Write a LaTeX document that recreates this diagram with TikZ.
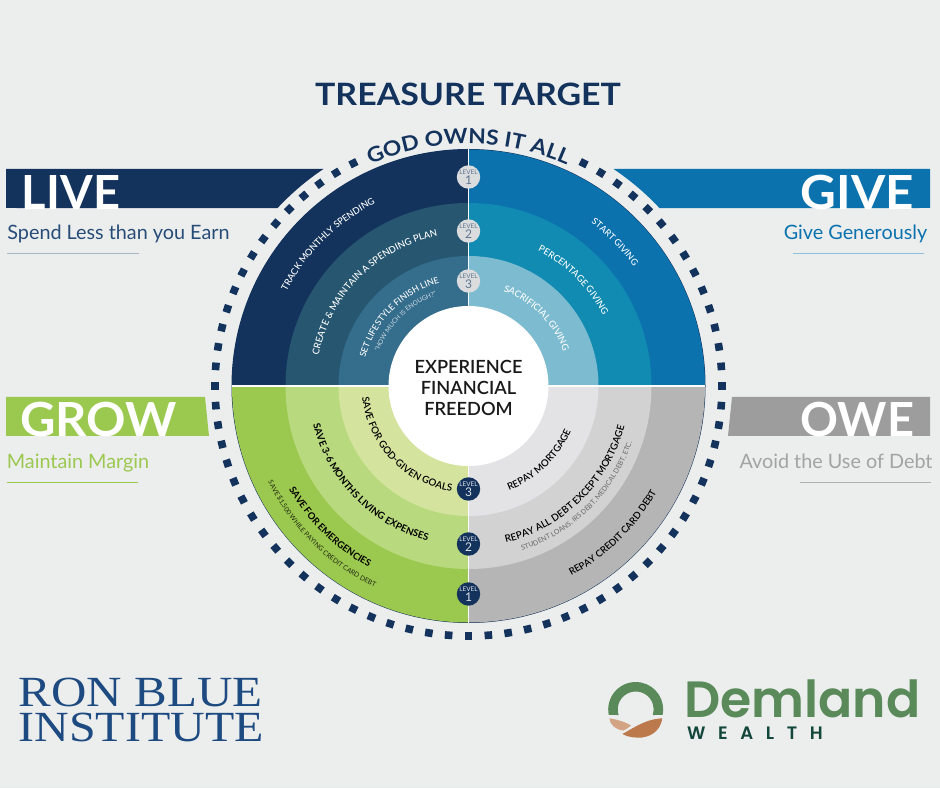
\documentclass[tikz,border=0pt]{standalone}
\usepackage{fontspec}
\usetikzlibrary{decorations.text}
\setmainfont{Lato}
\newfontfamily\medfont{Lato Medium}
\newfontfamily\semifont{Lato Semibold}
\newfontfamily\boldfont{Lato Bold}
\newfontfamily\widefont[FakeStretch=1.1]{Lato Bold}
\newfontfamily\brandfont{Poppins SemiBold}
\newfontfamily\wealthfont[LetterSpace=70]{Poppins SemiBold}
\newfontfamily\institutefont{Liberation Serif}

\definecolor{paper}{HTML}{ECEEEE}
\definecolor{navy}{HTML}{14335C}
\definecolor{liveB}{HTML}{265670}
\definecolor{liveC}{HTML}{356D8C}
\definecolor{giveA}{HTML}{0B72AE}
\definecolor{giveB}{HTML}{118BB1}
\definecolor{giveC}{HTML}{7CBBD0}
\definecolor{growA}{HTML}{9BC84F}
\definecolor{growB}{HTML}{B8D97D}
\definecolor{growC}{HTML}{D4E49F}
\definecolor{oweA}{HTML}{B5B5B6}
\definecolor{oweB}{HTML}{D2D2D3}
\definecolor{oweC}{HTML}{E3E3E5}
\definecolor{oweBar}{HTML}{9D9D9D}
\definecolor{oweText}{HTML}{A3A3A3}
\definecolor{spendText}{HTML}{274C77}
\definecolor{badgeLight}{HTML}{DADCDE}
\definecolor{badgeText}{HTML}{5F7590}
\definecolor{leafDark}{HTML}{BC7A4C}
\definecolor{leafLight}{HTML}{D2A483}
\definecolor{brandGreen}{HTML}{5A8A5A}
\definecolor{brandDark}{HTML}{12473A}
\definecolor{instituteBlue}{HTML}{1D4A80}

% r, start angle, end angle, text format, text: lettering centred along a circle round the centre
\newcommand{\arclabel}[5]{%
  \pgfmathsetmacro{\arcS}{#2+12*sign(#2-(#3))}%
  \pgfmathsetmacro{\arcE}{#3-12*sign(#2-(#3))}%
  \path[decorate,decoration={text along path,text align=center,
    text={|#4|#5}}]
    ([shift={(\arcS:#1)}]c) arc[start angle=\arcS,end angle=\arcE,radius=#1];}
% one ring sector: radius, start angle, colour
\newcommand{\sector}[3]{%
  \fill[#3] (c) -- ([shift={(#2:#1)}]c) arc[start angle=#2,end angle=#2+90,radius=#1] -- cycle;}
\newcommand{\fs}[1]{\fontsize{#1}{#1}\selectfont}
\newcommand{\levelmark}[1]{\fs{6.4}LEVEL\\[-2pt]\fs{12}#1}

\tikzset{
  x=1pt,y=1pt,
  bannerword/.style={anchor=base,inner sep=0pt,text=white,font=\boldfont\fontsize{47}{47}\selectfont},
  caption/.style={anchor=base,inner sep=0pt,font=\fontsize{19.8}{19.8}\selectfont},
  badge/.style={circle,minimum size=22pt,inner sep=0pt,align=center},
  badgeUp/.style={badge,fill=badgeLight,text=badgeText},
  badgeDown/.style={badge,fill=navy,text=white!85!navy},
}

\begin{document}
\begin{tikzpicture}
\useasboundingbox (0,0) rectangle (940,788);
\fill[paper] (0,0) rectangle (940,788);
\coordinate (c) at (468.5,402);

% banners, cut concentric with the target at the top and slanted at the bottom
\fill[navy] (6,619) -- ([shift={(123.75:261)}]c) arc[start angle=123.75,end angle=137.03,radius=261] -- (6,580) -- cycle;
\fill[giveA] (930,619) -- ([shift={(56.25:261)}]c) arc[start angle=56.25,end angle=42.97,radius=261] -- (930,580) -- cycle;
\fill[growA] (6,391) -- (205,391) -- (209,352) -- (6,352) -- cycle;
\fill[oweBar] (930,391) -- (732,391) -- (728,352) -- (930,352) -- cycle;

\node[bannerword] (live) at (71,578.5) {LIVE};
\node[bannerword] (give) at (857.5,578.5) {\scalebox{1.05}[1]{GIVE}};
\node[bannerword] (grow) at (98.5,351) {\scalebox{1.04}[1]{GROW}};
\node[bannerword] (owe) at (857.5,351) {OWE};

\node[caption,text=spendText] (livecap) at (118.5,548) {Spend Less than you Earn};
\node[caption,text=giveA] (givecap) at (855.5,548) {Give Generously};
\node[caption,text=growA] (growcap) at (78,319) {Maintain Margin};
\node[caption,text=oweText] (owecap) at (836,319) {Avoid the Use of Debt};

\draw[spendText!40!white,line width=0.9pt] (7,535) -- (139,535);
\draw[giveA!45!white,line width=0.9pt] (793,535) -- (924,535);
\draw[growA,line width=0.7pt] (7,306) -- (138,306);
\draw[oweText!85!white,line width=0.7pt] (800,306) -- (931,306);

% title and the lettering over the top of the ring
\node[anchor=base,inner sep=0pt,text=navy,font=\widefont\fontsize{30.8}{30.8}\selectfont] (title) at (468,682.5) {TREASURE TARGET};
\arclabel{242}{114.5}{65.5}{\widefont\fs{20.8}\color{navy}}{GOD OWNS IT ALL}

% square dots round the target, left open behind the lettering
\foreach \k in {0,...,79}{
  \pgfmathsetmacro{\a}{4.5*\k}
  \pgfmathparse{(\a>63.5 && \a<116.5) ? 1 : 0}
  \ifdim\pgfmathresult pt<0.5pt
    \fill[navy,shift={({468.5+253.5*cos(\a)},{402+250*sin(\a)})},rotate=\a] (-3.8,-3.8) rectangle (3.8,3.8);
  \fi
}

% rings, outermost first
\fill[navy] (c) circle[radius=237];
\sector{236.5}{90}{navy}   \sector{183}{90}{liveB}  \sector{130}{90}{liveC}
\sector{236.5}{0}{giveA}   \sector{183}{0}{giveB}   \sector{130}{0}{giveC}
\sector{236.5}{180}{growA} \sector{183}{180}{growB} \sector{130}{180}{growC}
\sector{236.5}{270}{oweA}  \sector{183}{270}{oweB}  \sector{130}{270}{oweC}

% dividers and hub
\draw[white!85!paper,line width=1.8pt] ([xshift=-236.5pt]c) -- ([xshift=236.5pt]c);
\draw[white!85!paper,line width=1.3pt] ([yshift=-236.5pt]c) -- ([yshift=236.5pt]c);
\fill[white] (c) circle[radius=80];
\node[align=center,inner sep=0pt,font=\semifont\fontsize{18.2}{21}\selectfont,text=black!90] (hub) at (468.5,400) {EXPERIENCE\\FINANCIAL\\FREEDOM};

% labels in the upper quarters
\arclabel{205}{153}{116.5}{\medfont\fs{9.2}\color{white}}{TRACK MONTHLY SPENDING}
\arclabel{153}{169}{101}{\medfont\fs{9.4}\color{white}}{CREATE {\&} MAINTAIN A SPENDING PLAN}
\arclabel{107}{167.5}{103}{\medfont\fs{8.7}\color{white}}{SET LIFESTYLE FINISH LINE}
\arclabel{96}{161}{107.5}{\fs{6.5}\color{white!75!liveC}}{“HOW MUCH IS ENOUGH?”}
\arclabel{204}{54.5}{34.5}{\medfont\fs{9}\color{white}}{START GIVING}
\arclabel{152}{64.5}{26}{\medfont\fs{9.2}\color{white}}{PERCENTAGE GIVING}
\arclabel{101}{72}{18}{\medfont\fs{9.2}\color{white}}{SACRIFICIAL GIVING}

% labels in the lower quarters
\arclabel{107}{185.5}{261.5}{\semifont\fs{9.8}\color{black}}{SAVE FOR GOD-GIVEN GOALS}
\arclabel{160}{193}{256}{\boldfont\fs{9.7}\color{black}}{SAVE 3-6 MONTHS LIVING EXPENSES}
\arclabel{207}{209}{242}{\boldfont\fs{9.5}\color{black}}{SAVE FOR EMERGENCIES}
\arclabel{222}{205}{245.5}{\fs{6.7}\color{black!80!growA}}{SAVE {\$}1,500 WHILE PAYING CREDIT CARD DEBT}
\arclabel{112}{-70}{-22.5}{\semifont\fs{9.7}\color{black}}{REPAY MORTGAGE}
\arclabel{161}{-77}{-14}{\semifont\fs{9.8}\color{black}}{REPAY ALL DEBT EXCEPT MORTGAGE}
\arclabel{173}{-72}{-19}{\fs{6.9}\color{black!60}}{STUDENT LOANS, IRS DEBT, MEDICAL DEBT, ETC.}
\arclabel{216}{-62.5}{-28.5}{\semifont\fs{9.5}\color{black}}{REPAY CREDIT CARD DEBT}

% level badges on the vertical divider
\node[badgeUp] (u1) at (468.5,611) {\levelmark{1}};
\node[badgeUp] (u2) at (468.5,557) {\levelmark{2}};
\node[badgeUp] (u3) at (468.5,507) {\levelmark{3}};
\node[badgeDown] (d3) at (468.5,299) {\levelmark{3}};
\node[badgeDown] (d2) at (468.5,244) {\levelmark{2}};
\node[badgeDown] (d1) at (468.5,194) {\levelmark{1}};

% institute wordmark
\node[anchor=base west,inner sep=0pt,text=instituteBlue,font=\institutefont\fontsize{43}{43}\selectfont] (ron) at (18.5,82) {\scalebox{1.14}[1]{RON BLUE}};
\node[anchor=base west,inner sep=0pt,text=instituteBlue,font=\institutefont\fontsize{43}{43}\selectfont] (inst) at (18.5,47) {\scalebox{1.115}[1]{INSTITUTE}};

% wealth mark: ring with a flat cut and two leaves
\fill[brandGreen] ([shift={(-11.5:27.5)}]635.7,78.5) arc[start angle=-11.5,end angle=191.5,radius=27.5]
  -- ([shift={(197.8:18)}]635.7,78.5) arc[start angle=197.8,end angle=-17.8,radius=18] -- cycle;
\fill[leafLight] (609.3,69.7) .. controls (620,68) and (627,65) .. (631,62.5)
  .. controls (628,60) and (626,58.5) .. (623.5,57.5)
  .. controls (616,58) and (610,63) .. (609.3,69.7) -- cycle;
\fill[leafDark] (662.3,69.7) .. controls (645,69) and (632,59) .. (622.3,54)
  .. controls (628,50.5) and (637,50) .. (642,50.5)
  .. controls (654,52) and (661,60) .. (662.3,69.7) -- cycle;

\node[anchor=base west,inner sep=0pt,text=brandGreen,font=\brandfont\fontsize{51}{51}\selectfont] (demland) at (684,71) {\scalebox{0.99}[1]{Demland}};
\node[anchor=base west,inner sep=0pt,text=brandDark,font=\wealthfont\fontsize{18}{18}\selectfont] (wealth) at (687,49) {WEALTH};
\end{tikzpicture}
\end{document}
